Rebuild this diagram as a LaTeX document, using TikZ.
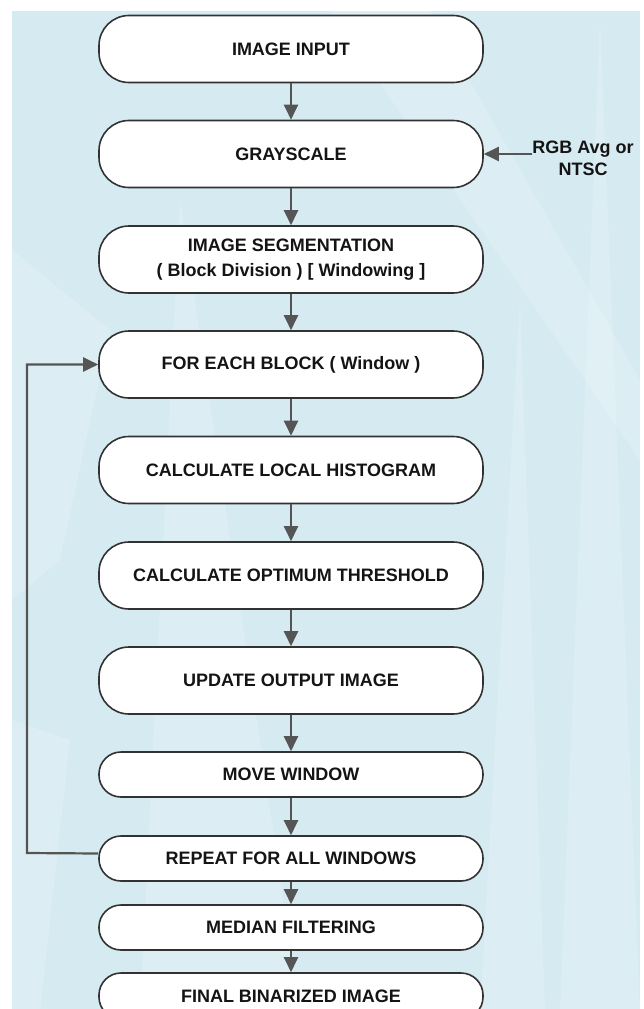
\documentclass[tikz,border=0pt]{standalone}
\usepackage{fontspec}
\setmainfont{Liberation Sans}
\usetikzlibrary{arrows.meta}
\definecolor{bgblue}{RGB}{213,235,241}
\definecolor{edge}{RGB}{50,50,50}
\definecolor{arrgray}{RGB}{85,85,85}
\definecolor{txt}{RGB}{20,20,20}
\tikzset{
  bigbox/.style={draw=edge, line width=1.6pt, fill=white, rounded corners=30pt,
    minimum width=384pt, minimum height=67pt, inner sep=0pt, align=center,
    text=txt, font=\fontsize{18}{25}\selectfont\bfseries},
  smallbox/.style={bigbox, rounded corners=22pt, minimum height=45pt},
  arr/.style={draw=arrgray, line width=2.2pt, -{Triangle[length=15pt,width=14pt]}},
  lbl/.style={align=center, text=txt, inner sep=0pt, font=\fontsize{18}{22}\selectfont\bfseries},
  streak/.style={fill=white, opacity=0.17, draw=none}
}
\begin{document}
\begin{tikzpicture}[x=1pt,y=-1pt]
\useasboundingbox (0,0) rectangle (643,1009);
\clip (0,0) rectangle (643,1009);
% background
\fill[bgblue] (12,11) rectangle (640,1012);
\fill[streak] (560,1012) -- (600,20) -- (640,1012) -- cycle;
\fill[streak] (12,250) -- (110,330) -- (60,560) -- (12,600) -- cycle;
\fill[streak] (480,1012) -- (520,300) -- (545,1012) -- cycle;
\fill[streak] (140,1012) -- (180,200) -- (300,1012) -- cycle;
\fill[streak] (330,11) -- (430,11) -- (640,380) -- (640,460) -- cycle;
\fill[streak] (12,720) -- (70,740) -- (40,1012) -- (12,1012) -- cycle;
% boxes
\node[bigbox] (b1) at (291,49) {IMAGE INPUT};
\node[bigbox] (b2) at (291,154) {GRAYSCALE};
\node[bigbox] (b3) at (291,259.5) {IMAGE SEGMENTATION\\( Block Division ) [ Windowing ]};
\node[bigbox] (b4) at (291,364.5) {FOR EACH BLOCK ( Window )};
\node[bigbox] (b5) at (291,470) {CALCULATE LOCAL HISTOGRAM};
\node[bigbox] (b6) at (291,575.5) {CALCULATE OPTIMUM THRESHOLD};
\node[bigbox] (b7) at (291,680.5) {UPDATE OUTPUT IMAGE};
\node[smallbox] (b8) at (291,774.5) {MOVE WINDOW};
\node[smallbox] (b9) at (291,858.5) {REPEAT FOR ALL WINDOWS};
\node[smallbox] (b10) at (291,927.5) {MEDIAN FILTERING};
\node[smallbox, minimum height=46pt] (b11) at (291,996) {FINAL BINARIZED IMAGE};
\node[lbl] (rgb) at (583,158) {RGB Avg or\\NTSC};
% connectors
\draw[arr] (b1) -- (b2);
\draw[arr] (b2) -- (b3);
\draw[arr] (b3) -- (b4);
\draw[arr] (b4) -- (b5);
\draw[arr] (b5) -- (b6);
\draw[arr] (b6) -- (b7);
\draw[arr] (b7) -- (b8);
\draw[arr] (b8) -- (b9);
\draw[arr] (b9) -- (b10);
\draw[arr] (b10) -- (b11);
\draw[arr] (rgb.west |- b2.east) -- (b2.east);
\coordinate (lc) at (27,853);
\draw[arr] ([yshift=5pt]b9.west) -- (lc) |- (b4.west);
\end{tikzpicture}
\end{document}
